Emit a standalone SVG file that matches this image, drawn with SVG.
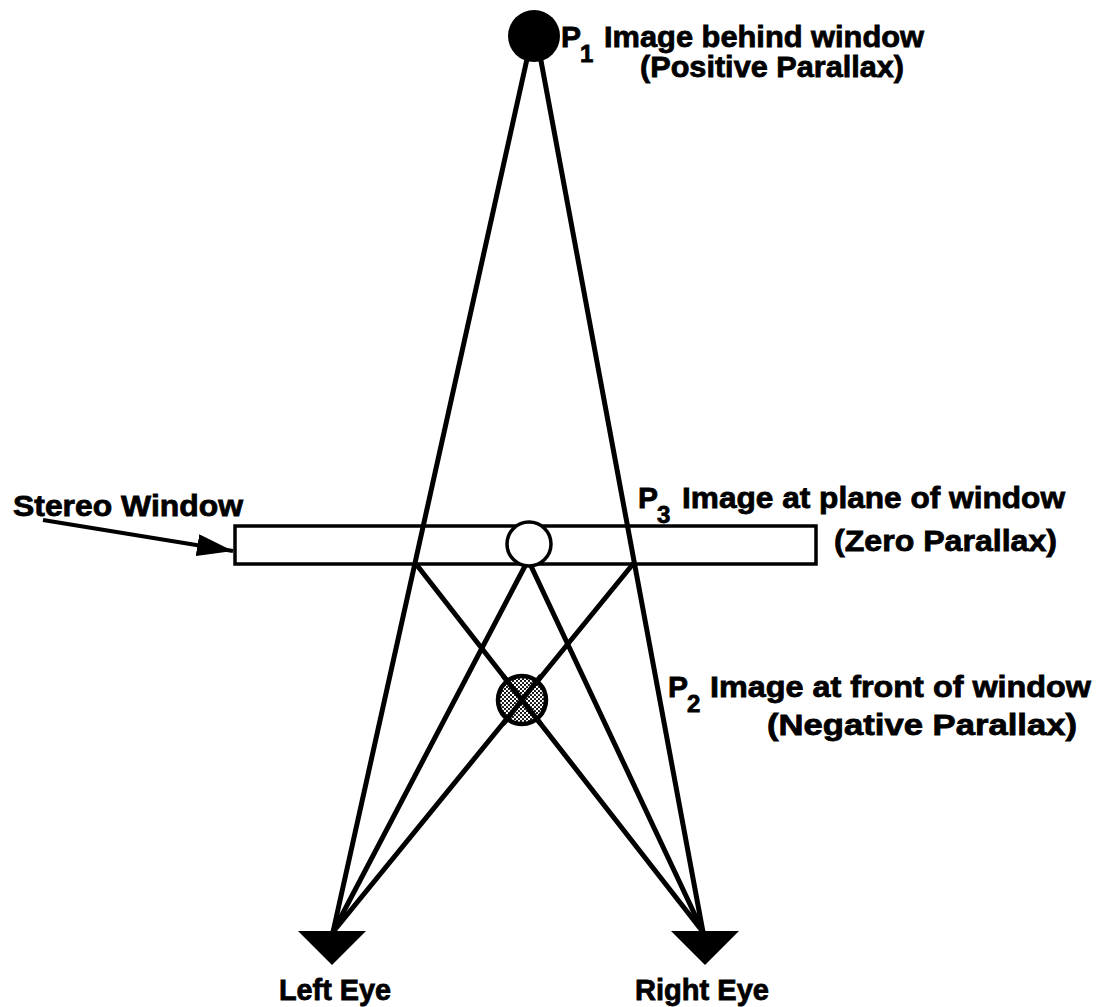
<svg xmlns="http://www.w3.org/2000/svg" width="1099" height="1007" viewBox="0 0 1099 1007">
<style>
.ln{stroke:#000;stroke-width:5;fill:none;stroke-linecap:round}
.lbl{font-family:"Liberation Sans",Arial,sans-serif;font-weight:bold;font-size:30px;fill:#000;stroke:#000;stroke-width:0.8}
.sub{font-family:"Liberation Sans",Arial,sans-serif;font-weight:bold;font-size:24px;fill:#000;stroke:#000;stroke-width:0.8}
</style>
<defs>
<pattern id="stip" width="4" height="4" patternUnits="userSpaceOnUse">
<rect width="4" height="4" fill="#fff"/>
<circle cx="1" cy="1" r="1.1" fill="#000"/>
<circle cx="3" cy="3" r="1.1" fill="#000"/>
</pattern>
<marker id="ah2" viewBox="0 0 36 22" refX="36" refY="11" markerWidth="36" markerHeight="22" markerUnits="userSpaceOnUse" orient="auto">
<path d="M0,0 L36,11 L0,22 z" fill="#000"/>
</marker>
</defs>
<rect width="1099" height="1007" fill="#fff"/>
<g id="window">
<rect x="235" y="526" width="581" height="38" fill="#fff" stroke="#000" stroke-width="3.5"/>
</g>
<g id="connectors">
<line class="ln" x1="529" y1="50" x2="333" y2="932"/>
<line class="ln" x1="539" y1="50" x2="703" y2="932"/>
<line class="ln" x1="416" y1="564" x2="703" y2="932"/>
<line class="ln" x1="633" y1="564" x2="333" y2="932"/>
<line class="ln" x1="525" y1="566" x2="333" y2="932"/>
<line class="ln" x1="531" y1="566" x2="703" y2="932"/>
<line x1="43" y1="520" x2="233" y2="551" stroke="#000" stroke-width="4" marker-end="url(#ah2)"/>
</g>
<g id="p1">
<circle cx="534" cy="36" r="26" fill="#000"/>
<text class="lbl" x="561" y="47">P</text>
<text class="sub" x="580" y="62">1</text>
<text class="lbl" x="604" y="47" textLength="320" lengthAdjust="spacingAndGlyphs">Image behind window</text>
<text class="lbl" x="640" y="77" textLength="264" lengthAdjust="spacingAndGlyphs">(Positive Parallax)</text>
</g>
<g id="p3">
<circle cx="529" cy="544" r="22" fill="#fff" stroke="#000" stroke-width="3.5"/>
<text class="lbl" x="638" y="508">P</text>
<text class="sub" x="657" y="523">3</text>
<text class="lbl" x="682" y="508" textLength="383" lengthAdjust="spacingAndGlyphs">Image at plane of window</text>
<text class="lbl" x="834" y="551" textLength="223" lengthAdjust="spacingAndGlyphs">(Zero Parallax)</text>
</g>
<g id="p2">
<circle cx="522" cy="700" r="24" fill="url(#stip)" stroke="#000" stroke-width="4.5"/>
<line class="ln" x1="504" y1="677" x2="540" y2="723"/>
<line class="ln" x1="540" y1="677" x2="504" y2="723"/>
<text class="lbl" x="668" y="697">P</text>
<text class="sub" x="687" y="712">2</text>
<text class="lbl" x="710" y="697" textLength="381" lengthAdjust="spacingAndGlyphs">Image at front of window</text>
<text class="lbl" x="767" y="735" textLength="310" lengthAdjust="spacingAndGlyphs">(Negative Parallax)</text>
</g>
<g id="stereo-label">
<text class="lbl" x="13" y="516" textLength="230" lengthAdjust="spacingAndGlyphs">Stereo Window</text>
</g>
<g id="left-eye">
<polygon points="298,931 366,931 332,965" fill="#000"/>
<text class="lbl" x="335" y="1000" text-anchor="middle" textLength="112" lengthAdjust="spacingAndGlyphs">Left Eye</text>
</g>
<g id="right-eye">
<polygon points="671,931 739,931 705,965" fill="#000"/>
<text class="lbl" x="702" y="1000" text-anchor="middle" textLength="134" lengthAdjust="spacingAndGlyphs">Right Eye</text>
</g>
</svg>
